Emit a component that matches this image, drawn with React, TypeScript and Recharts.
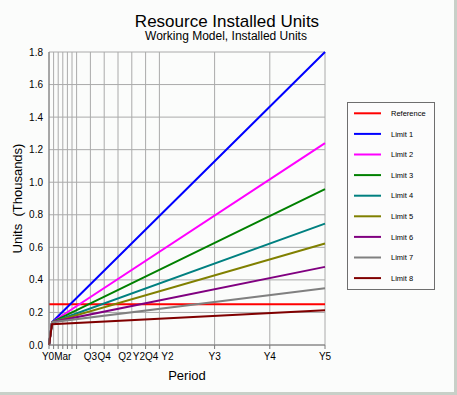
import React from 'react';
import { LineChart, Line, XAxis, YAxis, CartesianGrid, Legend, Label } from 'recharts';

// periods in years from Y0
const periods = [0, 0.055, 5];

const seriesNames = ['Reference', 'Limit 1', 'Limit 2', 'Limit 3', 'Limit 4', 'Limit 5', 'Limit 6', 'Limit 7', 'Limit 8'];
const seriesColors = ['#ff0000', '#0000ff', '#ff00ff', '#008000', '#008080', '#808000', '#800080', '#808080', '#800000'];

// values in thousands of units
const reference = [0.25, 0.25, 0.25];
const limit1 = [0, 0.14, 1.8];
const limit2 = [0, 0.14, 1.24];
const limit3 = [0, 0.14, 0.957];
const limit4 = [0, 0.14, 0.746];
const limit5 = [0, 0.14, 0.624];
const limit6 = [0, 0.14, 0.48];
const limit7 = [0, 0.14, 0.348];
const limit8 = [0, 0.127, 0.213];

const seriesValues = [reference, limit1, limit2, limit3, limit4, limit5, limit6, limit7, limit8];

const xGridTicks = [0, 1 / 12, 2 / 12, 3 / 12, 4 / 12, 5 / 12, 6 / 12, 0.75, 1, 1.25, 1.5, 1.75, 2, 3, 4, 5];
const xTickLabels = ['Y0', '', '', 'Mar', '', '', '', 'Q3', 'Q4', 'Q2', '', 'Y2Q4', 'Y2', 'Y3', 'Y4', 'Y5'];
const yTicks = [0, 0.2, 0.4, 0.6, 0.8, 1.0, 1.2, 1.4, 1.6, 1.8];

const data = periods.map((p, i) => {
  const row: Record<string, number> = { period: p };
  seriesValues.forEach((vals, s) => {
    row['s' + s] = vals[i];
  });
  return row;
});

const font = '"Liberation Sans", Arial, sans-serif';

// small nudges so overlapping labels sit like the original
const labelShift: Record<string, number> = { Y0: -1, Q2: 7, Y2: 8 };

const XTick = (props: any) => {
  const { x, y, payload } = props;
  let idx = 0;
  xGridTicks.forEach((t, i) => {
    if (Math.abs(t - payload.value) < Math.abs(xGridTicks[idx] - payload.value)) idx = i;
  });
  const text = xTickLabels[idx];
  if (!text) return null;
  return (
    <text x={x + (labelShift[text] || 0)} y={y} dy="0.71em" textAnchor="middle" fontSize={10} fill="#000" fontFamily={font}>
      {text}
    </text>
  );
};

const LegendBox = () => (
  <svg width={88} height={188}>
    <rect x={0.5} y={0.5} width={87} height={187} fill="#fcfcfc" stroke="#6e6e6e" />
    {seriesNames.map((name, i) => {
      const cy = 11.3 + i * 20.6;
      return (
        <g key={name}>
          <line x1={7} x2={34} y1={cy} y2={cy} stroke={seriesColors[i]} strokeWidth={2} />
          <text x={44} y={cy + 2.7} fontSize={7.5} fill="#000" fontFamily={font}>
            {name}
          </text>
        </g>
      );
    })}
  </svg>
);

export default function App() {
  return (
    <div style={{ position: 'absolute', left: 0, top: 0, width: 457, height: 395, background: '#c8d0c8' }}>
      <div style={{ position: 'absolute', left: 0, top: 0, width: 454, height: 392, background: '#fbfcfb' }} />
      <div style={{ position: 'absolute', left: 0, top: 0 }}>
        <LineChart width={457} height={395} data={data} margin={{ top: 52, right: 132, left: 0, bottom: 0 }}>
          <CartesianGrid stroke="#aaaaaa" strokeWidth={1} />
          <XAxis
            dataKey="period"
            type="number"
            domain={[0, 5]}
            ticks={xGridTicks}
            interval={0}
            height={50}
            tickSize={4}
            tickMargin={4}
            stroke="#7a7a7a"
            tick={<XTick />}
          >
            <Label
              position="insideTop"
              offset={26}
              value="Period"
              style={{ fontSize: 13, fill: '#000', fontFamily: font }}
            />
          </XAxis>
          <YAxis
            type="number"
            domain={[0, 1.8]}
            ticks={yTicks}
            interval={0}
            width={49}
            tickSize={0}
            tickLine={false}
            tickMargin={6}
            stroke="#7a7a7a"
            tickFormatter={(v: number) => v.toFixed(1)}
            tick={{ fontSize: 10, fill: '#000', fontFamily: font }}
          >
            <Label
              content={(props: any) => {
                const vb = props.viewBox || { x: 0, y: 52, width: 49, height: 293 };
                const cx = vb.x + 17;
                const cy = vb.y + vb.height / 2;
                return (
                  <text
                    x={cx}
                    y={cy}
                    transform={`rotate(-90 ${cx} ${cy})`}
                    textAnchor="middle"
                    dominantBaseline="central"
                    fontSize={13}
                    fill="#000"
                    fontFamily={font}
                    xmlSpace="preserve"
                  >
                    Units  (Thousands)
                  </text>
                );
              }}
            />
          </YAxis>
          <Legend
            layout="vertical"
            align="center"
            verticalAlign="middle"
            wrapperStyle={{ position: 'absolute', left: 347, top: 102, width: 88, height: 188 }}
            content={() => <LegendBox />}
          />
          {seriesNames.map((name, i) => (
            <Line
              key={name}
              name={name}
              dataKey={'s' + i}
              type="linear"
              stroke={seriesColors[i]}
              strokeWidth={2}
              dot={false}
              activeDot={false}
              isAnimationActive={false}
            />
          ))}
        </LineChart>
      </div>
      <svg width={457} height={60} style={{ position: 'absolute', left: 0, top: 0, pointerEvents: 'none' }}>
        <text x={227} y={26.5} textAnchor="middle" fontSize={17} fill="#000" fontFamily={font}>
          Resource Installed Units
        </text>
        <text x={226} y={40} textAnchor="middle" fontSize={12} fill="#000" fontFamily={font}>
          Working Model, Installed Units
        </text>
      </svg>
    </div>
  );
}
